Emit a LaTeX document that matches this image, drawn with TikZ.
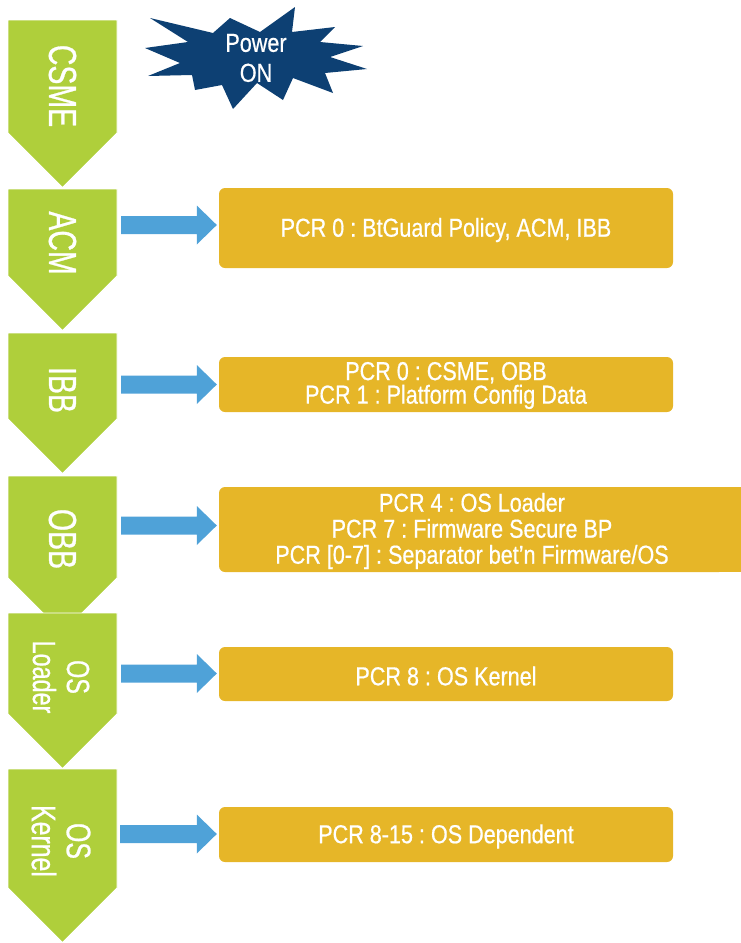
\documentclass[tikz,border=0pt]{standalone}
\usepackage{fontspec}
\setmainfont[FakeStretch=0.83,FakeBold=0.6]{Liberation Sans}
\newfontfamily\chevfont[FakeStretch=0.73,FakeBold=0.7]{Liberation Sans}
\usetikzlibrary{calc}
\definecolor{chevgreen}{HTML}{AFCF3B}
\definecolor{boxgold}{HTML}{E6B628}
\definecolor{arrblue}{HTML}{4FA2D8}
\definecolor{burstnavy}{HTML}{0D4073}
\tikzset{
  chevshape/.style={fill=chevgreen,draw=white,line width=0.8pt},
  chevtext/.style={text=white,font=\chevfont\fontsize{39}{39}\selectfont,rotate=-90,inner sep=0pt},
  chevtwo/.style={text=white,font=\chevfont\fontsize{34}{35}\selectfont,rotate=-90,inner sep=0pt,align=center},
  pcrbox/.style={fill=boxgold,rounded corners=6pt,text=white,inner sep=0pt,align=center,
    font=\fontsize{26}{26}\selectfont,minimum width=454pt},
  pcrtext/.style={text=white,align=center,inner sep=0pt,font=\fontsize{26}{26}\selectfont},
  blockarr/.style={fill=arrblue},
}
\newcommand\chevron[2]{% top, rect bottom
  \fill[chevshape] (8,#1) -- (117,#1) -- (117,#2) -- (62.5,#2+54.5) -- (8,#2) -- cycle;}
\newcommand\barrow[2]{% from coordinate #1 to node #2 (west)
  \path let \p1=(#1), \p2=(#2.west) in
    [blockarr] (\x1,\y1+9pt) -- (\x2-22pt,\y1+9pt) -- (\x2-22pt,\y1+19.5pt) -- (\x2-2pt,\y1)
    -- (\x2-22pt,\y1-19.5pt) -- (\x2-22pt,\y1-9pt) -- (\x1,\y1-9pt) -- cycle;}
\frenchspacing
\begin{document}
\begin{tikzpicture}[x=1pt,y=-1pt]
\useasboundingbox (0,0) rectangle (741,943);
% chevrons
\chevron{20}{133}
\chevron{189}{276}
\chevron{333}{419}
\chevron{476}{578}
\chevron{613}{714}
\chevron{769}{888}
\node[chevtext] (csme) at (62.5,86) {CSME};
\node[chevtext] (acm) at (62.5,243) {ACM};
\node[chevtext] (ibb) at (62.5,390) {IBB};
\node[chevtext] (obb) at (62.5,539) {OBB};
\node[chevtwo,font=\chevfont\fontsize{32}{34}\selectfont] (osl) at (61,677) {OS\\Loader};
\node[chevtwo] (osk) at (61,841) {OS\\Kernel};
% burst
\fill[burstnavy] (150,18) -- (213,33) -- (230,18) -- (260,32) -- (295,7) -- (292,32)
  -- (335,27) -- (320,42) -- (363,46) -- (330,57) -- (367,69) -- (325,73)
  -- (333,93) -- (293,78) -- (283,100) -- (257,83) -- (233,109) -- (222,85)
  -- (195,90) -- (192,75) -- (148,76) -- (180,63) -- (145,48) -- (188,42) -- cycle;
\node[pcrtext,font=\fontsize{26}{30}\selectfont] (power) at (256,58) {Power\\ON};
% boxes
\node[pcrbox,minimum height=80pt] (b1) at (446,228) {};
\node[pcrtext] (t1) at (446,230) {PCR 0 : BtGuard Policy, ACM, IBB};
\node[pcrbox,minimum height=55pt] (b2) at (446,384.5) {};
\node[pcrtext,font=\fontsize{26}{23.5}\selectfont] (t2) at (446,385.5) {PCR 0 : CSME, OBB\\PCR 1 : Platform Config Data};
\fill[boxgold] (700,487) rectangle (748,572);
\node[pcrbox,minimum height=85pt,minimum width=506pt] (b3) at (472,529.5) {};
\node[pcrtext] (t3) at (472,531) {PCR 4 : OS Loader\\PCR 7 : Firmware Secure BP\\PCR [0-7] : Separator bet’n Firmware/OS};
\node[pcrbox,minimum height=54pt] (b4) at (446,674) {};
\node[pcrtext] (t4) at (446,676) {PCR 8 : OS Kernel};
\node[pcrbox,minimum height=55pt] (b5) at (446,834.5) {};
\node[pcrtext] (t5) at (446,836.5) {PCR 8-15 : OS Dependent};
% arrows
\coordinate (a1) at (121,225);
\coordinate (a2) at (121,384.5);
\coordinate (a3) at (121,525.5);
\coordinate (a4) at (121,673.5);
\coordinate (a5) at (120,834);
\barrow{a1}{b1}
\barrow{a2}{b2}
\barrow{a3}{b3}
\barrow{a4}{b4}
\barrow{a5}{b5}
\end{tikzpicture}
\end{document}
